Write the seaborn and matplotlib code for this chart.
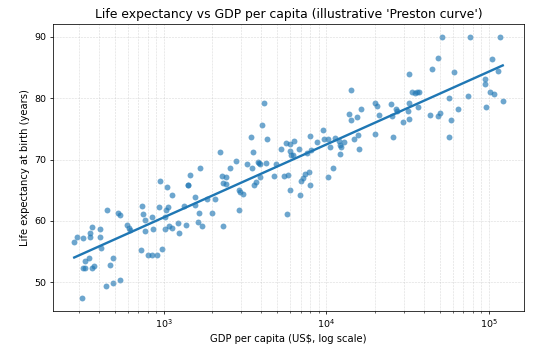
import numpy as np
import pandas as pd
import seaborn as sns
import matplotlib
matplotlib.use("Agg")
import matplotlib.pyplot as plt

# GDP per capita (US$) and life expectancy (years)
gdp = [282, 292, 321, 354, 354, 365, 407, 407, 413, 350,
       329, 318, 328, 362, 374, 317, 451, 525, 538, 491,
       468, 442, 488, 543, 596, 615, 624, 737, 746, 771,
       771, 851, 857, 728, 800, 854, 915, 975, 952, 1050,
       1122, 943, 1036, 1061, 1026, 1014, 1085, 1127, 1235, 1250,
       1373, 1341, 1406, 1422, 1459, 1559, 1570, 1648, 1626, 1713,
       1665, 1863, 2075, 1988, 2210, 2335, 2296, 2436, 2335, 2428,
       2570, 2794, 2910, 2944, 3076, 2924, 3279, 3462, 3565, 3500,
       3795, 3864, 3947, 4248, 4060, 4148, 4339, 3930, 3715, 3589,
       4808, 4923, 5307, 5495, 5834, 5636, 5979, 6025, 6095, 6220,
       6370, 6790, 6010, 5770, 6870, 7015, 7230, 7460, 7905, 7980,
       7650, 8075, 7945, 8835, 9550, 9750, 10310, 10620, 10280, 10990,
       11400, 12060, 12230, 12350, 12940, 12180, 13870, 14160, 14220, 15420,
       15770, 14940, 15920, 16490, 20000, 20140, 20650, 21090, 25220, 26790,
       27170, 25510, 29790, 25700, 32060, 32200, 32270, 32200, 33720, 35370,
       36140, 37050, 36900, 43380, 44800, 49100, 48750, 50480, 51400, 56720,
       56720, 59130, 61090, 64430, 74640, 76320, 95550, 95550, 96580, 101700,
       107600, 105000, 114600, 118400, 122200]

life = [56.6, 57.3, 57.2, 58.0, 57.3, 59.0, 58.6, 57.3, 55.6, 54.0,
        53.4, 52.3, 52.3, 52.3, 52.7, 47.4, 61.7, 61.3, 61.0, 53.9,
        52.8, 49.4, 49.9, 50.3, 59.3, 58.8, 58.5, 62.4, 61.1, 60.1,
        58.3, 60.6, 58.6, 55.2, 54.5, 54.5, 54.5, 55.4, 66.5, 65.6,
        64.3, 62.2, 61.8, 62.2, 60.7, 58.6, 59.1, 58.8, 59.6, 58.1,
        59.4, 62.5, 65.8, 65.8, 67.5, 63.9, 62.6, 61.3, 59.8, 59.1,
        68.6, 63.6, 63.5, 61.3, 71.2, 59.2, 67.4, 67.2, 66.1, 66.0,
        68.7, 69.8, 65.1, 64.7, 64.4, 61.7, 69.3, 73.7, 71.3, 68.6,
        69.6, 69.5, 69.3, 69.4, 75.6, 79.2, 73.3, 67.1, 66.4, 65.8,
        67.4, 69.3, 71.7, 67.3, 67.5, 72.7, 72.5, 71.4, 70.7, 70.7,
        73.0, 71.8, 65.0, 61.1, 64.2, 66.5, 67.0, 67.6, 67.9, 65.9,
        71.1, 71.5, 73.8, 72.8, 74.8, 73.3, 73.3, 72.0, 67.1, 68.6,
        73.5, 73.1, 72.4, 72.1, 72.9, 70.9, 77.5, 76.5, 81.4, 77.0,
        74.0, 73.3, 71.7, 78.3, 74.2, 79.2, 78.7, 77.2, 79.0, 78.2,
        78.0, 77.1, 76.1, 73.7, 77.9, 79.2, 76.7, 83.9, 81.0, 80.9,
        81.0, 81.0, 78.6, 77.2, 84.8, 86.6, 77.1, 77.6, 90.0, 80.0,
        73.7, 76.5, 84.3, 78.3, 80.4, 90.0, 83.2, 82.3, 78.5, 81.1,
        80.7, 86.4, 84.5, 90.0, 79.6]

df = pd.DataFrame({"gdp": gdp, "life": life})

fig, ax = plt.subplots(figsize=(8, 5.12), dpi=68.75)

sns.regplot(data=df, x="gdp", y="life", logx=True, ci=None, ax=ax,
            color="#1f77b4",
            scatter_kws={"s": 38, "alpha": 0.65, "linewidths": 0},
            line_kws={"linewidth": 2.5})

ax.set_xscale("log")
ax.grid(True, which="both", linestyle="--", linewidth=0.6, alpha=0.45)
ax.set_title("Life expectancy vs GDP per capita (illustrative 'Preston curve')", fontsize=13)
ax.set_xlabel("GDP per capita (US$, log scale)", fontsize=10.5)
ax.set_ylabel("Life expectancy at birth (years)", fontsize=10.5)

fig.subplots_adjust(left=0.096, right=0.953, bottom=0.116, top=0.932)
fig.savefig("out.png", dpi=68.75)
